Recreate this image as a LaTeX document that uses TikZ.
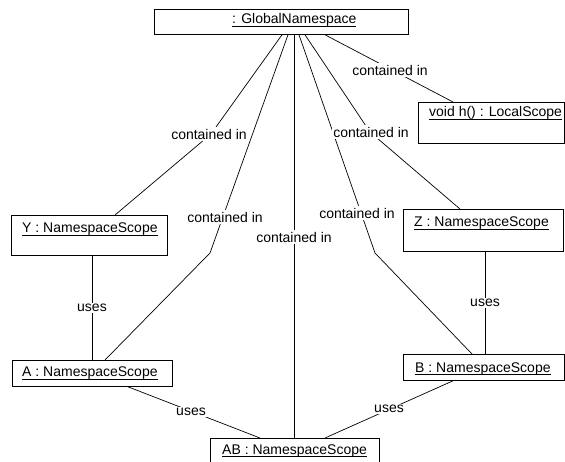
\documentclass[tikz,border=0pt]{standalone}
\usepackage{fontspec}
\setmainfont{Liberation Sans}
\usetikzlibrary{calc}
% object names are underlined at a fixed depth below the baseline
\newcommand\objname[1]{\setbox0\hbox{#1}\rlap{\rule[-2.6pt]{\wd0}{0.7pt}}\box0}
\begin{document}
\begin{tikzpicture}[x=1pt,y=-1pt,
  obj/.style={draw=black, line width=0.8pt, fill=white, anchor=north west, inner sep=0pt},
  objtext/.style={anchor=base west, inner sep=0pt, font=\fontsize{14}{16}\selectfont},
  link/.style={draw=black, line width=0.7pt},
  role/.style={fill=white, inner sep=1.5pt, font=\fontsize{14}{16}\selectfont}]
\useasboundingbox (0,0) rectangle (565,462);
\fill[white] (0,0) rectangle (565,462);

% objects
\node[obj, minimum width=254pt, minimum height=25pt] (G) at (154,9) {};
\node[obj, minimum width=146pt, minimum height=41pt] (L) at (418,102) {};
\node[obj, minimum width=156pt, minimum height=40pt] (Y) at (11,215) {};
\node[obj, minimum width=160pt, minimum height=42pt] (Z) at (403,209) {};
\node[obj, minimum width=160pt, minimum height=26pt] (A) at (12,360) {};
\node[obj, minimum width=161pt, minimum height=26pt] (B) at (403,354) {};
\node[obj, minimum width=169pt, minimum height=30pt] (AB) at (210,438) {};

\node[objtext] (Gt) at (232,24) {\objname{: GlobalNamespace}};
\node[objtext] (Lt) at (429,117) {\objname{void h() : LocalScope}};
\node[objtext] (Yt) at (22,233) {\objname{Y : NamespaceScope}};
\node[objtext] (Zt) at (414,227) {\objname{Z : NamespaceScope}};
\node[objtext] (At) at (22,377) {\objname{A : NamespaceScope}};
\node[objtext] (Bt) at (415,372) {\objname{B : NamespaceScope}};
\node[objtext] (ABt) at (222,454) {\objname{AB : NamespaceScope}};

% attachment points on the object outlines
\coordinate (g1) at ($(G.south west)+(128,0)$);
\coordinate (g2) at ($(G.south west)+(134,0)$);
\coordinate (g3) at ($(G.south west)+(140,0)$);
\coordinate (g4) at ($(G.south west)+(145,0)$);
\coordinate (g5) at ($(G.south west)+(151,0)$);
\coordinate (g6) at ($(G.south west)+(171,0)$);
\coordinate (yn) at ($(Y.north west)+(104,0)$);
\coordinate (ys) at ($(Y.south west)+(81,0)$);
\coordinate (an) at ($(A.north west)+(93,0)$);
\coordinate (an2) at ($(A.north west)+(80,0)$);
\coordinate (as) at ($(A.south west)+(116,0)$);
\coordinate (zn) at ($(Z.north west)+(57,0)$);
\coordinate (zs) at ($(Z.south west)+(82,0)$);
\coordinate (bn) at ($(B.north west)+(69,0)$);
\coordinate (bn2) at ($(B.north west)+(82,0)$);
\coordinate (bs) at ($(B.south west)+(50,0)$);
\coordinate (ln) at ($(L.north west)+(35,0)$);
\coordinate (abn1) at ($(AB.north west)+(50,0)$);
\coordinate (abn2) at ($(AB.north west)+(84,0)$);
\coordinate (abn3) at ($(AB.north west)+(115,0)$);

% bend points
\coordinate (k1) at (211,134);
\coordinate (k2) at (210,253);
\coordinate (k4) at (375,253);
\coordinate (k5) at (370,132);

% containment links
\draw[link] (g1) -- (k1) -- (yn);
\draw[link] (g2) -- (k2) -- (an);
\draw[link] (g3) -- (abn2);
\draw[link] (g4) -- (k4) -- (bn);
\draw[link] (g5) -- (k5) -- (zn);
\draw[link] (g6) -- (ln);

% usage links
\draw[link] (ys) -- (an2);
\draw[link] (zs) -- (bn2);
\draw[link] (as) -- (abn1);
\draw[link] (bs) -- (abn3);

% link labels
\node[role] (c1) at (209,134) {contained in};
\node[role] (c2) at (225,217) {contained in};
\node[role] (c3) at (294,237) {contained in};
\node[role] (c4) at (357,213) {contained in};
\node[role] (c5) at (371,132) {contained in};
\node[role] (c6) at (390,70) {contained in};
\node[role] (u1) at (92,308) {uses};
\node[role] (u2) at (485,303) {uses};
\node[role] (u3) at (191,412) {uses};
\node[role] (u4) at (389,409) {uses};
\end{tikzpicture}
\end{document}
